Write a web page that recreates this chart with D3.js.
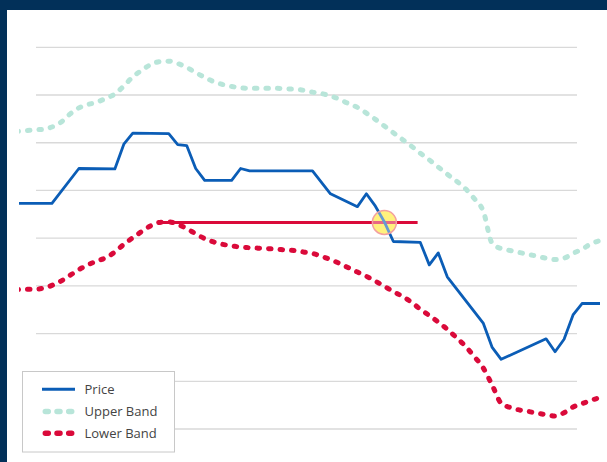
<!DOCTYPE html>
<html><head><meta charset="utf-8">
<script src="https://cdn.jsdelivr.net/npm/d3@7"></script>
<style>html,body{margin:0;padding:0;background:#fff;overflow:hidden}</style>
</head><body><svg id="chart" width="607" height="462"></svg>
<script>
// ---- data ----
const gridValues = [40, 50, 60, 70, 80, 90, 100, 110, 120];
const priceDays   = [0, 4, 7, 11, 12, 13, 17, 18, 19, 20, 21, 24, 25, 26, 33, 35, 38, 39, 40, 41, 42, 45, 46, 47, 48, 52, 53, 54, 59, 60, 61, 62, 63, 65];
const priceValues = [87.3, 87.3, 94.6, 94.5, 99.7, 102.0, 101.9, 99.6, 99.4, 94.6, 92.1, 92.1, 94.6, 94.1, 94.1, 89.3, 86.6, 89.3, 86.7, 83.4, 79.3, 79.1, 74.4, 76.9, 71.9, 62.2, 57.1, 54.6, 58.9, 56.2, 58.8, 63.9, 66.3, 66.3];
const upperBand = [102.4, 102.5, 102.7, 102.8, 103.3, 104.3, 106.0, 107.3, 108.0, 108.5,
  109.3, 110.2, 111.9, 113.8, 115.2, 116.4, 117.0, 117.1, 116.6, 115.8,
  114.7, 113.7, 112.8, 112.2, 111.8, 111.5, 111.4, 111.4, 111.4, 111.4,
  111.3, 111.2, 111.0, 110.6, 110.3, 109.8, 109.1, 108.2, 107.4, 106.2,
  104.9, 103.5, 102.1, 100.7, 99.3, 97.8, 96.4, 94.9, 93.4, 92.0,
  90.4, 88.3, 85.7, 78.9, 77.8, 77.4, 77.0, 76.6, 76.2, 75.8,
  75.5, 75.8, 76.8, 77.7, 78.8, 79.5];
const lowerBand = [69.2, 69.3, 69.3, 69.5, 70.1, 71.0, 72.2, 73.4, 74.4, 75.2,
  75.9, 77.1, 78.7, 80.1, 81.4, 82.6, 83.3, 83.4, 82.9, 82.0,
  80.9, 79.9, 79.2, 78.7, 78.4, 78.1, 78.0, 77.9, 77.8, 77.7,
  77.5, 77.4, 77.1, 76.8, 76.2, 75.5, 74.7, 73.8, 72.9, 72.0,
  71.0, 69.9, 68.8, 67.8, 66.6, 65.1, 63.8, 62.4, 60.9, 59.2,
  57.4, 55.2, 52.8, 49.2, 45.4, 44.5, 44.0, 43.7, 43.3, 43.0,
  42.7, 43.4, 44.6, 45.3, 46.0, 46.6];
const supportLevel = 83.3;
const supportDays = [16, 44.7];
const crossDay = 41;
const legendLabels = ["Price", "Upper Band", "Lower Band"];

// ---- styles ----
const C = { navy: "#023059", price: "#0b5db6", upper: "#b8e5d9", lower: "#da0a3a", grid: "#d9d9d9" };

const svg = d3.select("#chart");
svg.append("rect").attr("width", 607).attr("height", 462).attr("fill", C.navy);
svg.append("rect").attr("x", 7).attr("y", 10).attr("width", 600).attr("height", 452).attr("fill", "#fff");

const x = d3.scaleLinear().domain([0, 65]).range([16, 600]);
const y = d3.scaleLinear().domain([40, 120]).range([429, 47.3]);

svg.append("defs").append("clipPath").attr("id", "clip")
  .append("rect").attr("x", 19).attr("y", 10).attr("width", 588).attr("height", 452);

// gridlines
svg.append("g").selectAll("line").data(gridValues).join("line")
  .attr("x1", 36).attr("x2", 577)
  .attr("y1", d => y(d)).attr("y2", d => y(d))
  .attr("stroke", C.grid).attr("stroke-width", 1.3);

const plot = svg.append("g").attr("clip-path", "url(#clip)");
const bandLine = d3.line().x((d, i) => x(i)).y(d => y(d)).curve(d3.curveMonotoneX);

plot.append("path").attr("d", bandLine(upperBand))
  .attr("fill", "none").attr("stroke", C.upper).attr("stroke-width", 5)
  .attr("stroke-linecap", "round").attr("stroke-dasharray", "2.5 9");
plot.append("path").attr("d", bandLine(lowerBand))
  .attr("fill", "none").attr("stroke", C.lower).attr("stroke-width", 5)
  .attr("stroke-linecap", "round").attr("stroke-dasharray", "2.5 9");

// highlight circle base
plot.append("circle").attr("cx", x(crossDay)).attr("cy", y(supportLevel)).attr("r", 12)
  .attr("fill", "#ffe82e");

// support line
plot.append("line")
  .attr("x1", x(supportDays[0])).attr("x2", x(supportDays[1]))
  .attr("y1", y(supportLevel)).attr("y2", y(supportLevel))
  .attr("stroke", C.lower).attr("stroke-width", 3);

// price
const priceLine = d3.line().x(d => x(d[0])).y(d => y(d[1]));
plot.append("path").attr("d", priceLine(d3.zip(priceDays, priceValues)))
  .attr("fill", "none").attr("stroke", C.price).attr("stroke-width", 2.8)
  .attr("stroke-linejoin", "round");

// highlight circle overlay
plot.append("circle").attr("cx", x(crossDay)).attr("cy", y(supportLevel)).attr("r", 12)
  .attr("fill", "#fff").attr("fill-opacity", 0.38)
  .attr("stroke", "#f3a0a0").attr("stroke-width", 1.5);

// legend
const lg = svg.append("g");
lg.append("rect").attr("x", 22.5).attr("y", 371.5).attr("width", 152).attr("height", 80.5)
  .attr("fill", "#fff").attr("stroke", "#c8c8c8").attr("stroke-width", 1);
const legendY = [389.3, 411.5, 433.3];
const legendColors = [C.price, C.upper, C.lower];
legendLabels.forEach((lab, i) => {
  if (i === 0) {
    lg.append("line").attr("x1", 42).attr("x2", 75).attr("y1", legendY[i]).attr("y2", legendY[i])
      .attr("stroke", legendColors[i]).attr("stroke-width", 3);
  } else {
    lg.append("line").attr("x1", 45.3).attr("x2", 74).attr("y1", legendY[i]).attr("y2", legendY[i])
      .attr("stroke", legendColors[i]).attr("stroke-width", 5.5)
      .attr("stroke-linecap", "round").attr("stroke-dasharray", "3 8.7");
  }
  lg.append("text").attr("x", 84.5).attr("y", legendY[i]).attr("dy", "0.35em")
    .attr("font-family", "'Open Sans', sans-serif").attr("font-size", 13)
    .attr("fill", "#444").text(lab);
});
</script>
</body></html>
